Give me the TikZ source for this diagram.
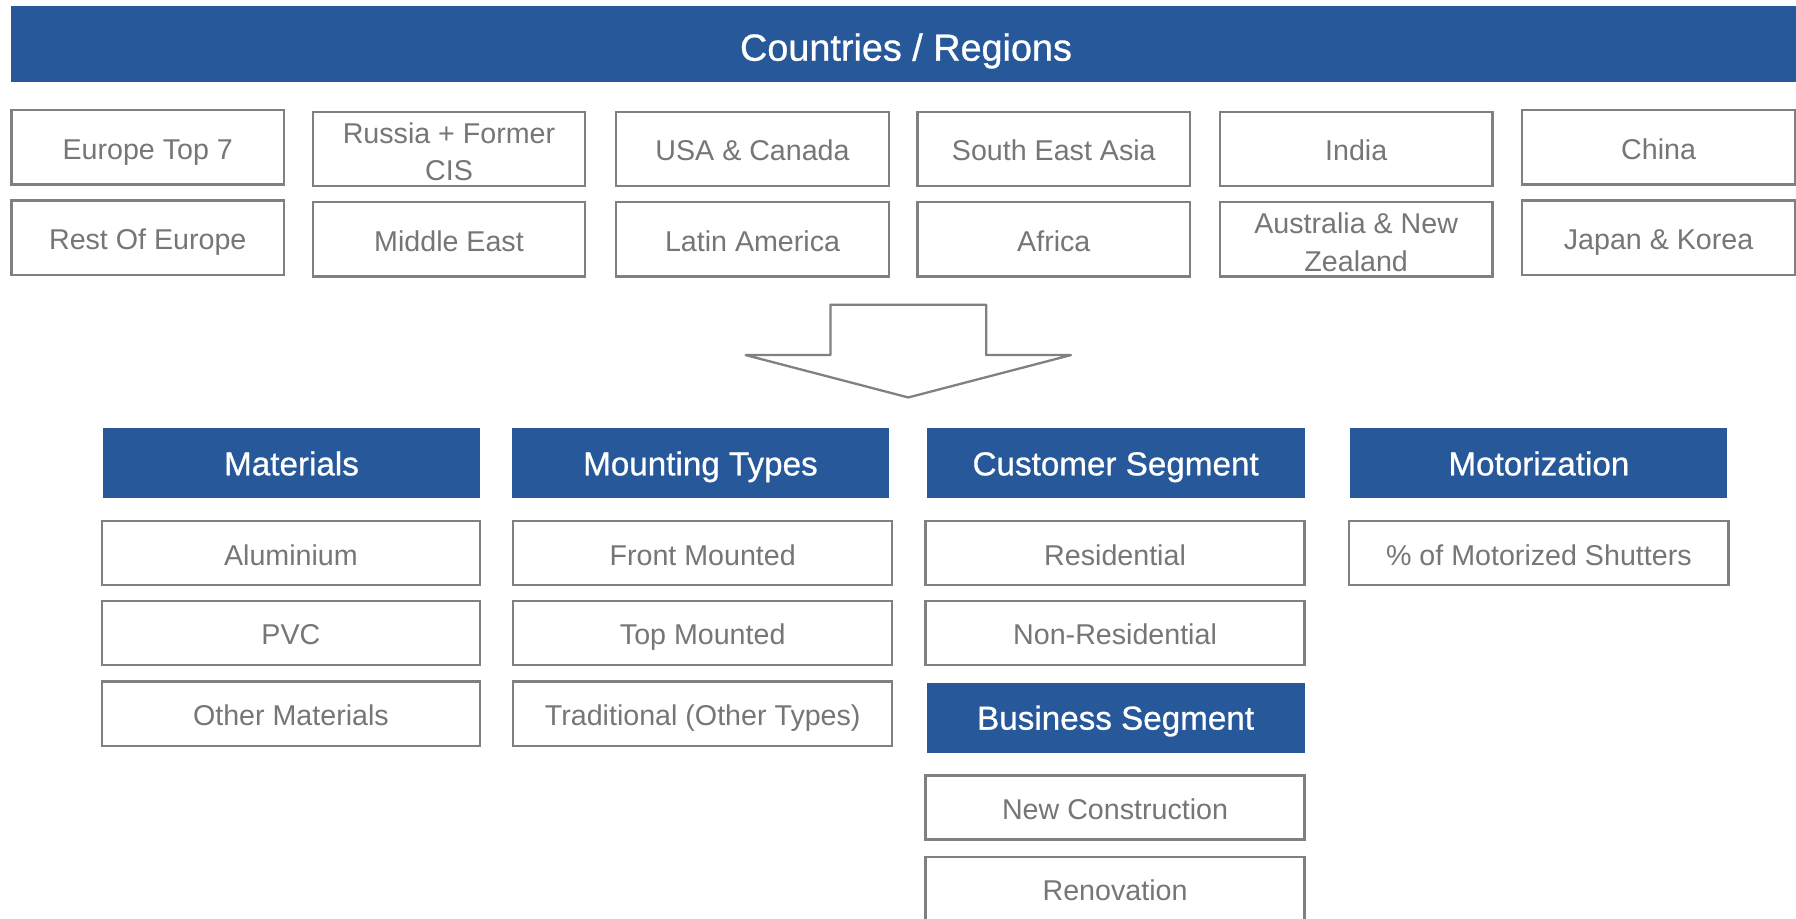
\documentclass[tikz,border=0pt]{standalone}
\usepackage{fontspec}
\setmainfont{Liberation Sans}
\newfontfamily\hdrfont[FakeBold=0.8]{Liberation Sans}
\definecolor{hdrblue}{RGB}{38,88,154}
\definecolor{boxgray}{RGB}{128,128,128}
\definecolor{txtgray}{RGB}{118,118,118}
\begin{document}
\begin{tikzpicture}[x=1pt,y=-1pt,
  gbase/.style={draw=boxgray, line width=2pt, fill=white, text=txtgray, inner sep=0pt,
    font=\fontsize{25}{32}\selectfont},
  gbox/.style={gbase, text height=23pt, text depth=2pt},
  twoline/.style={text=txtgray, inner sep=0pt, align=center, font=\fontsize{25}{33}\selectfont},
  topbox/.style={gbox, minimum width=238pt, minimum height=65pt},
  topframe/.style={gbase, minimum width=238pt, minimum height=65pt},
  subbox/.style={gbox, minimum width=331pt, minimum height=56pt},
  hbox/.style={fill=hdrblue, text=white, inner sep=0pt, minimum width=329pt,
    minimum height=61pt, text height=23pt, text depth=2pt,
    font=\hdrfont\fontsize{29}{34}\selectfont},
  arrowshape/.style={draw=boxgray, line width=2pt, fill=white, line join=round}
]
\useasboundingbox (0,0) rectangle (1568,802.3);

% banner
\node[fill=hdrblue, text=white, inner sep=0pt, minimum width=1562pt, minimum height=67pt,
  text height=31pt, text depth=2pt,
  font=\hdrfont\fontsize{33}{38}\selectfont] (banner) at (791,38.5) {Countries / Regions};

% regions row 1
\node[topbox] (eu7) at (129,128.5) {Europe Top 7};
\node[topframe] (rus) at (392,130) {};
\node[twoline] (rus-t) at ([yshift=-2.5pt]rus.center) {Russia + Former\\CIS};
\node[topbox] (usa) at (657,130) {USA \& Canada};
\node[topbox] (sea) at (920,130) {South East Asia};
\node[topbox] (ind) at (1184,130) {India};
\node[topbox] (chn) at (1448,128.5) {China};
% regions row 2
\node[topbox] (roe) at (129,207.5) {Rest Of Europe};
\node[topbox] (mea) at (392,209) {Middle East};
\node[topbox] (lat) at (657,209) {Latin America};
\node[topbox] (afr) at (920,209) {Africa};
\node[topframe] (anz) at (1184,209) {};
\node[twoline] (anz-t) at ([yshift=-2.5pt]anz.center) {Australia \& New\\Zealand};
\node[topbox] (jpk) at (1448,207.5) {Japan \& Korea};

% block arrow
\draw[arrowshape] (725,266) -- (861,266) -- (861,310) -- (935,310) -- (793,347)
  -- (651,310) -- (725,310) -- cycle;

% headers
\node[hbox] (mat) at (254.5,404.5) {Materials};
\node[hbox] (mnt) at (611.5,404.5) {Mounting Types};
\node[hbox, minimum width=330pt] (cus) at (974,404.5) {Customer Segment};
\node[hbox] (mot) at (1343.5,404.5) {Motorization};
\node[hbox, minimum width=330pt] (bus) at (974,626.5) {Business Segment};

% materials
\node[subbox, minimum width=330pt] (alu) at (254,483) {Aluminium};
\node[subbox, minimum width=330pt] (pvc) at (254,552.5) {PVC};
\node[subbox, minimum width=330pt] (oth) at (254,623) {Other Materials};
% mounting
\node[subbox] (frm) at (613.5,483) {Front Mounted};
\node[subbox] (tpm) at (613.5,552.5) {Top Mounted};
\node[subbox] (trd) at (613.5,623) {Traditional (Other Types)};
% customer
\node[subbox] (res) at (973.5,483) {Residential};
\node[subbox] (nres) at (973.5,552.5) {Non-Residential};
% business
\node[subbox] (newc) at (973.5,705) {New Construction};
\node[subbox] (ren) at (973.5,776) {Renovation};
% motorization
\node[subbox] (pms) at (1343.5,483) {\% of Motorized Shutters};
\end{tikzpicture}
\end{document}
